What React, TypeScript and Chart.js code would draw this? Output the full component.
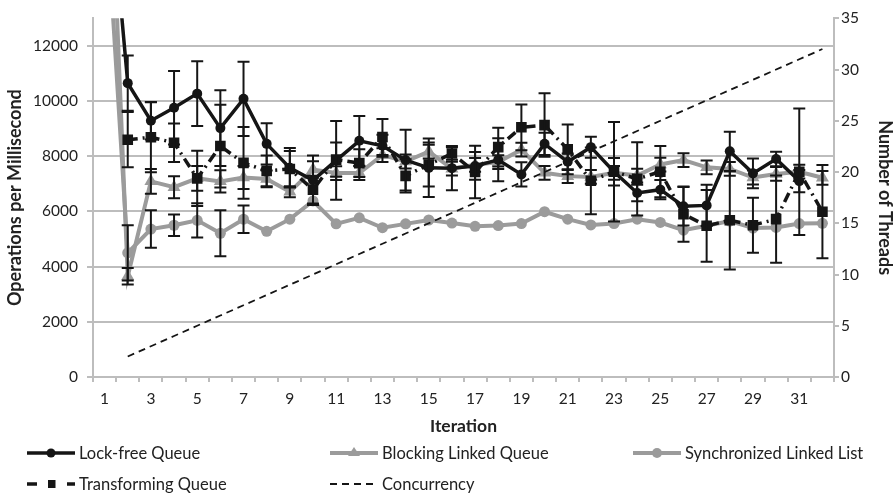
import React, { useEffect, useRef } from 'react';
import { Chart, registerables } from 'chart.js';

Chart.register(...registerables);

const iterations = ['1', '2', '3', '4', '5', '6', '7', '8', '9', '10', '11', '12', '13', '14', '15', '16',
  '17', '18', '19', '20', '21', '22', '23', '24', '25', '26', '27', '28', '29', '30', '31', '32'];

const lockFree = [20000, 10650, 9290, 9760, 10270, 9020, 10080, 8450, 7580, 7130, 7850, 8560, 8380, 7860, 7580, 7570,
  7650, 7870, 7340, 8450, 7800, 8330, 7440, 6670, 6790, 6190, 6220, 8180, 7380, 7900, 7100, null];
const lockFreeErr = [0, 1000, 680, 1330, 1170, 1370, 1345, 750, 715, 900, 1430, 900, 400, 1100, 1060, 800,
  500, 780, 440, 400, 300, 380, 500, 300, 350, 700, 750, 710, 540, 260, 400, 0];

const blocking = [24000, 3650, 7090, 6880, 7200, 7090, 7230, 7180, 6710, 7520, 7390, 7390, 8040, 7810, 8170, 7550,
  7690, 7790, 8240, 7400, 7280, 7250, 7400, 7300, 7700, 7860, 7600, 7540, 7230, 7360, 7440, 7220];
const blockingErr = [0, 300, 450, 400, 450, 400, 420, 300, 200, 300, 250, 250, 250, 250, 250, 250,
  250, 250, 250, 250, 250, 250, 250, 250, 250, 250, 250, 250, 250, 250, 250, 250];

const synchronized = [18000, 4500, 5360, 5500, 5680, 5210, 5720, 5280, 5720, 6380, 5550, 5770, 5410, 5550, 5690, 5580,
  5460, 5490, 5560, 5990, 5720, 5510, 5560, 5720, 5600, 5320, 5480, 5650, 5400, 5420, 5560, 5570];
const synchronizedErr = [0, 1000, 680, 390, 620, 830, 500, 0, 0, 0, 0, 0, 0, 0, 0, 0,
  0, 0, 0, 0, 0, 0, 0, 0, 0, 0, 0, 0, 0, 0, 0, 0];

const transforming = [null, 8600, 8690, 8490, 7200, 8370, 7760, 7470, 7540, 6790, 7880, 7750, 8700, 7290, 7700, 8100,
  7430, 8330, 9050, 9130, 8250, 7110, 7440, 7180, 7440, 5900, 5480, 5680, 5500, 5720, 7440, 5990];
const transformingErr = [0, 1000, 1270, 700, 1000, 1500, 1300, 560, 650, 500, 620, 500, 650, 600, 800, 230,
  950, 700, 830, 1150, 900, 1210, 1800, 1330, 930, 1000, 1300, 1780, 1000, 1580, 2290, 1690];

const concurrency = [null, 2, 3, 4, 5, 6, 7, 8, 9, 10, 11, 12, 13, 14, 15, 16,
  17, 18, 19, 20, 21, 22, 23, 24, 25, 26, 27, 28, 29, 30, 31, 32];

const leftTickValues = [0, 2000, 4000, 6000, 8000, 10000, 12000];
const leftMax = 13000;
const rightTickValues = [0, 5, 10, 15, 20, 25, 30, 35];
const rightMax = 35;

const FONT = 'Lato, "Open Sans", sans-serif';
const GRAY = '#9b9b9b';
const BLACK = '#151515';
const GRID = '#bdbdbd';
const TEXT = '#222222';

export default function App() {
  const ref = useRef<HTMLCanvasElement>(null);

  useEffect(() => {
    const canvas = ref.current;
    if (!canvas) return;
    const errorSets: Record<number, number[]> = {
      1: lockFreeErr,
      2: blockingErr,
      3: synchronizedErr,
      4: transformingErr,
    };
    const errorBars = {
      id: 'errorBars',
      afterDatasetsDraw(chart: any) {
        const { ctx, chartArea } = chart;
        const yScale = chart.scales.y;
        ctx.save();
        ctx.beginPath();
        ctx.rect(chartArea.left, chartArea.top, chartArea.right - chartArea.left, chartArea.bottom - chartArea.top);
        ctx.clip();
        ctx.strokeStyle = BLACK;
        ctx.lineWidth = 2;
        Object.keys(errorSets).forEach((k) => {
          const di = Number(k);
          const errs = errorSets[di];
          const meta = chart.getDatasetMeta(di);
          const values = chart.data.datasets[di].data as (number | null)[];
          values.forEach((v, j) => {
            const e = errs[j];
            if (v == null || !e) return;
            const pt = meta.data[j];
            if (!pt) return;
            const x = pt.x;
            const yT = yScale.getPixelForValue(v + e);
            const yB = yScale.getPixelForValue(v - e);
            ctx.beginPath();
            ctx.moveTo(x, yT);
            ctx.lineTo(x, yB);
            ctx.moveTo(x - 6, yT);
            ctx.lineTo(x + 6, yT);
            ctx.moveTo(x - 6, yB);
            ctx.lineTo(x + 6, yB);
            ctx.stroke();
          });
        });
        ctx.restore();
      },
    };

    const chart = new Chart(canvas, {
      type: 'line',
      data: {
        labels: iterations,
        datasets: [
          {
            label: 'Concurrency', data: concurrency, yAxisID: 'y1', borderColor: BLACK, borderWidth: 1.8,
            borderDash: [7, 5], pointRadius: 0, fill: false, order: 0, tension: 0,
          },
          {
            label: 'Lock-free Queue', data: lockFree, yAxisID: 'y', borderColor: BLACK, backgroundColor: BLACK,
            borderWidth: 3.5, pointStyle: 'circle', pointRadius: 5, pointBackgroundColor: BLACK,
            pointBorderColor: BLACK, pointBorderWidth: 0, order: 1, tension: 0,
          },
          {
            label: 'Blocking Linked Queue', data: blocking, yAxisID: 'y', borderColor: GRAY, backgroundColor: GRAY,
            borderWidth: 4, pointStyle: 'triangle', pointRadius: 7.5, pointBackgroundColor: GRAY,
            pointBorderColor: GRAY, pointBorderWidth: 0, order: 3, tension: 0,
          },
          {
            label: 'Synchronized Linked List', data: synchronized, yAxisID: 'y', borderColor: GRAY, backgroundColor: GRAY,
            borderWidth: 4, pointStyle: 'circle', pointRadius: 5.5, pointBackgroundColor: GRAY,
            pointBorderColor: GRAY, pointBorderWidth: 0, order: 4, tension: 0,
          },
          {
            label: 'Transforming Queue', data: transforming, yAxisID: 'y', borderColor: BLACK, backgroundColor: BLACK,
            borderWidth: 3.5, borderDash: [10, 5, 2, 5], pointStyle: 'rect', pointRadius: 7.5,
            pointBackgroundColor: BLACK, pointBorderColor: BLACK, pointBorderWidth: 0, order: 2, tension: 0,
          },
        ],
      },
      options: {
        animation: false,
        responsive: false,
        devicePixelRatio: 1,
        layout: { padding: { top: 13, bottom: 58, left: 0, right: 0 } },
        plugins: { legend: { display: false }, tooltip: { enabled: false } },
        scales: {
          x: {
            type: 'category',
            offset: true,
            afterFit: (s: any) => { s.height = 60; },
            grid: { display: true, offset: true, drawOnChartArea: false, tickLength: 5, color: GRID, lineWidth: 2 },
            border: { display: true, color: GRID, width: 2 },
            ticks: {
              autoSkip: false, maxRotation: 0, padding: 8, color: TEXT, font: { family: FONT, size: 15.5 },
              callback: (_v: any, i: number) => (i % 2 === 0 ? iterations[i] : ''),
            },
            title: {
              display: true, text: 'Iteration', color: TEXT, font: { family: FONT, size: 17.5, weight: 'bold' },
              padding: { top: 0, bottom: 0 },
            },
          },
          y: {
            type: 'linear',
            position: 'left',
            min: 0, max: leftMax,
            afterFit: (s: any) => { s.width = 93; },
            afterBuildTicks: (s: any) => { s.ticks = leftTickValues.map((v) => ({ value: v })); },
            grid: { color: GRID, lineWidth: 2, tickLength: 6 },
            border: { display: true, color: GRID, width: 2 },
            ticks: {
              padding: 9, color: TEXT, font: { family: FONT, size: 15.5 },
              callback: (v: any) => String(v),
            },
            title: {
              display: true, text: 'Operations per Millisecond', color: TEXT,
              font: { family: FONT, size: 18, weight: 'bold' }, padding: { top: 4, bottom: 0 },
            },
          },
          y1: {
            type: 'linear',
            position: 'right',
            min: 0, max: rightMax,
            afterFit: (s: any) => { s.width = 62; },
            afterBuildTicks: (s: any) => { s.ticks = rightTickValues.map((v) => ({ value: v })); },
            grid: { drawOnChartArea: false, color: GRID, lineWidth: 2, tickLength: 5 },
            border: { display: true, color: GRID, width: 2 },
            ticks: { padding: 2, color: TEXT, font: { family: FONT, size: 15.5 }, callback: (v: any) => String(v) },
            title: {
              display: true, text: 'Number of Threads', color: TEXT,
              font: { family: FONT, size: 18, weight: 'bold' }, padding: { top: 0, bottom: 0 },
            },
          },
        },
      } as any,
      plugins: [errorBars],
    });
    return () => chart.destroy();
  }, []);

  const textStyle: React.CSSProperties = {
    fontFamily: FONT, fontSize: 16.5, color: TEXT, marginLeft: 4, whiteSpace: 'nowrap', lineHeight: '20px',
  };
  const item = (left: number, cy: number, marker: React.ReactNode, label: string) => (
    <div style={{ position: 'absolute', left, top: cy - 10, height: 20, display: 'flex', alignItems: 'center' }}>
      <svg width={48} height={20} style={{ display: 'block' }}>{marker}</svg>
      <span style={textStyle}>{label}</span>
    </div>
  );

  return (
    <div style={{ position: 'fixed', left: 0, top: 0, width: 896, height: 495, background: '#fff', overflow: 'hidden' }}>
      <canvas ref={ref} width={896} height={495} style={{ display: 'block', width: 896, height: 495 }} />
      {item(27, 453, (
        <g>
          <line x1={0} y1={10} x2={48} y2={10} stroke={BLACK} strokeWidth={3.5} />
          <circle cx={24} cy={10} r={4.5} fill={BLACK} />
        </g>
      ), 'Lock-free Queue')}
      {item(330, 453, (
        <g>
          <line x1={0} y1={10} x2={48} y2={10} stroke={GRAY} strokeWidth={4} />
          <polygon points="24,4 30,13 18,13" fill={GRAY} />
        </g>
      ), 'Blocking Linked Queue')}
      {item(633, 453, (
        <g>
          <line x1={0} y1={10} x2={48} y2={10} stroke={GRAY} strokeWidth={4} />
          <circle cx={24} cy={10} r={5} fill={GRAY} />
        </g>
      ), 'Synchronized Linked List')}
      {item(27, 484, (
        <g>
          <line x1={0} y1={10} x2={10} y2={10} stroke={BLACK} strokeWidth={3.5} />
          <rect x={21} y={6} width={7.5} height={8} fill={BLACK} />
          <line x1={40} y1={10} x2={48} y2={10} stroke={BLACK} strokeWidth={3.5} />
        </g>
      ), 'Transforming Queue')}
      {item(330, 484, (
        <line x1={0} y1={10} x2={48} y2={10} stroke={BLACK} strokeWidth={1.8} strokeDasharray="7 5" />
      ), 'Concurrency')}
    </div>
  );
}
